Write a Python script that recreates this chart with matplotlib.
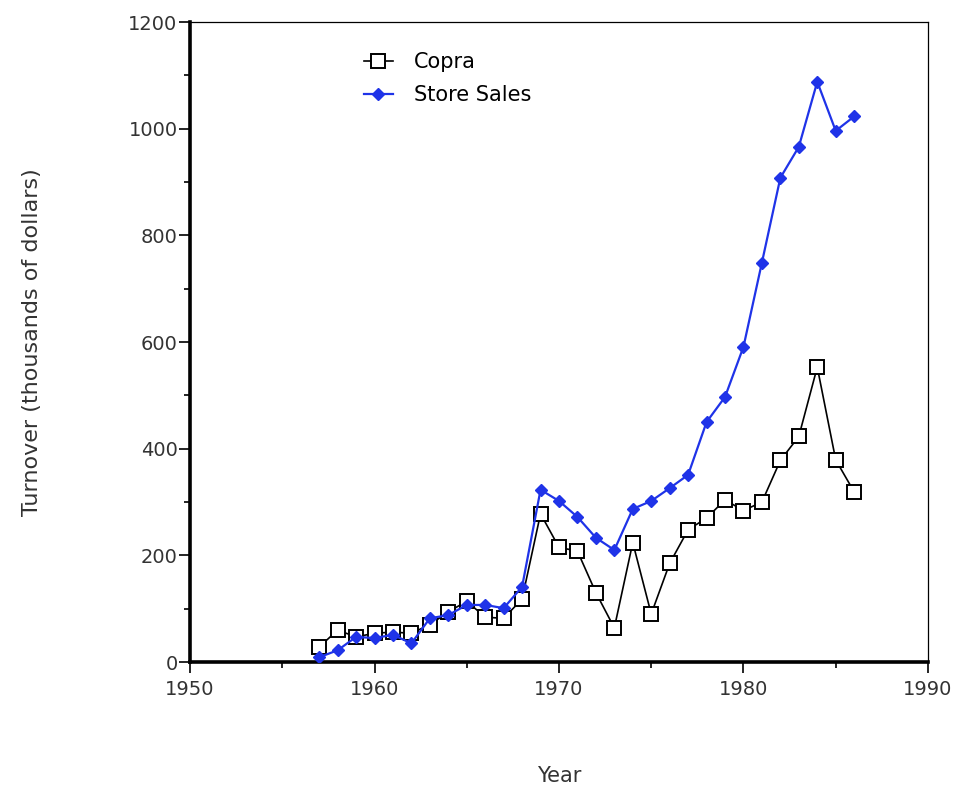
# Copra and store sales turnover, 1957-1986

import numpy as np
import matplotlib.pyplot as plt
from matplotlib.ticker import MultipleLocator

# -----------------------------------------------------
# Data
# -----------------------------------------------------

years = list(range(1957, 1987))

copra = [28, 60, 47, 54, 56, 54, 70, 94, 114, 84,
         82, 118, 278, 215, 208, 130, 64, 224, 90, 185,
         248, 270, 304, 284, 300, 378, 423, 553, 379, 319]

store_sales = [9, 22, 47, 45, 51, 35, 82, 88, 107, 107,
               101, 141, 323, 302, 272, 233, 210, 287, 302, 326,
               351, 450, 497, 591, 749, 908, 966, 1088, 996, 1023]

x_ticks = [1950, 1960, 1970, 1980, 1990]
y_ticks = [0, 200, 400, 600, 800, 1000, 1200]

# -----------------------------------------------------
# Figure
# -----------------------------------------------------

fig = plt.figure(figsize=(9.73, 7.87), dpi=100)
ax = fig.add_axes([0.1953, 0.1588, 0.7584, 0.8132])

ax.plot(years, copra, color="black", linewidth=1.2,
        marker="s", markersize=10, markerfacecolor="white",
        markeredgecolor="black", markeredgewidth=1.4,
        label="Copra", zorder=2)

ax.plot(years, store_sales, color="#1f33e8", linewidth=1.6,
        marker="D", markersize=6, markerfacecolor="#1f33e8",
        markeredgecolor="#1f33e8",
        label="Store Sales", zorder=3)

ax.set_xlim(1950, 1990)
ax.set_ylim(0, 1200)

ax.set_xticks(x_ticks)
ax.set_yticks(y_ticks)
ax.xaxis.set_minor_locator(MultipleLocator(5))
ax.yaxis.set_minor_locator(MultipleLocator(100))

ax.tick_params(which="major", direction="out", length=8, width=1.2,
               labelsize=14, colors="black", labelcolor="#333333")
ax.tick_params(which="minor", direction="out", length=4, width=1.2)
ax.tick_params(axis="y", pad=1)
ax.tick_params(axis="x", pad=5)

for side in ["left", "bottom"]:
    ax.spines[side].set_linewidth(2.6)
for side in ["top", "right"]:
    ax.spines[side].set_linewidth(0.9)

ax.set_xlabel("Year", fontsize=15, color="#333333", labelpad=48)
ax.set_ylabel("Turnover (thousands of dollars)", fontsize=16,
              color="#333333", labelpad=62)

ax.legend(loc="upper left", bbox_to_anchor=(0.21, 0.982),
          frameon=False, fontsize=15, handlelength=1.4,
          handletextpad=1.0, labelspacing=0.6)

fig.savefig("out.png", dpi=100)
